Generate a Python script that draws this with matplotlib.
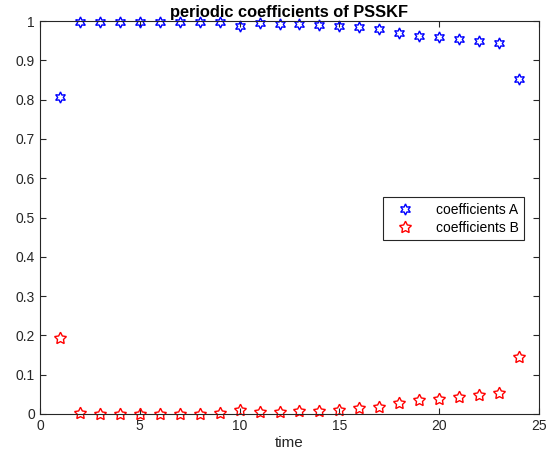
import matplotlib
matplotlib.use("Agg")
import matplotlib.pyplot as plt

plt.rcParams['font.family'] = ['Liberation Sans', 'DejaVu Sans']

time = list(range(1, 25))
coef_a = [0.807, 0.998, 0.998, 0.998, 0.998, 0.998, 0.998, 0.998, 0.997, 0.988,
          0.994, 0.993, 0.992, 0.991, 0.988, 0.985, 0.980, 0.969, 0.962, 0.959,
          0.955, 0.950, 0.945, 0.852]
coef_b = [0.193, 0.003, 0.001, 0.001, 0.001, 0.001, 0.001, 0.001, 0.002, 0.010,
          0.006, 0.006, 0.007, 0.007, 0.011, 0.014, 0.019, 0.028, 0.036, 0.039,
          0.042, 0.049, 0.053, 0.146]

fig = plt.figure(figsize=(5.47, 4.65), dpi=100)
ax = fig.add_axes([0.0731, 0.1097, 0.9123, 0.8451])

ax.plot(time, coef_a, linestyle='none', marker=(6, 1, 0), markersize=8,
        markerfacecolor='none', markeredgecolor='blue', markeredgewidth=1.0,
        label='coefficients A', clip_on=False)
ax.plot(time, coef_b, linestyle='none', marker=(5, 1, 0), markersize=9,
        markerfacecolor='none', markeredgecolor='red', markeredgewidth=1.0,
        label='coefficients B', clip_on=False)

ax.set_xlim(0, 25)
ax.set_ylim(0, 1)
ax.set_xticks([0, 5, 10, 15, 20, 25])
ax.set_yticks([i / 10 for i in range(11)])
ax.set_yticklabels(['0', '0.1', '0.2', '0.3', '0.4', '0.5', '0.6', '0.7', '0.8', '0.9', '1'])
ax.tick_params(direction='in', top=True, right=True, labelsize=10, colors='#262626',
               length=4)
for s in ax.spines.values():
    s.set_color('#262626')
    s.set_linewidth(0.8)

ax.set_xlabel('time', fontsize=11, color='#262626', labelpad=2)
ax.set_title('periodic coefficients of PSSKF', fontsize=11.8, fontweight='bold', pad=3)

leg = ax.legend(loc='upper left', bbox_to_anchor=(0.6874, 0.5522), fontsize=10,
                fancybox=False, edgecolor='#262626', framealpha=1,
                handlelength=2.4, handletextpad=1.0, borderpad=0.4,
                labelspacing=0.3, borderaxespad=0)
leg.get_frame().set_linewidth(0.8)

fig.savefig('out.png', dpi=100)
